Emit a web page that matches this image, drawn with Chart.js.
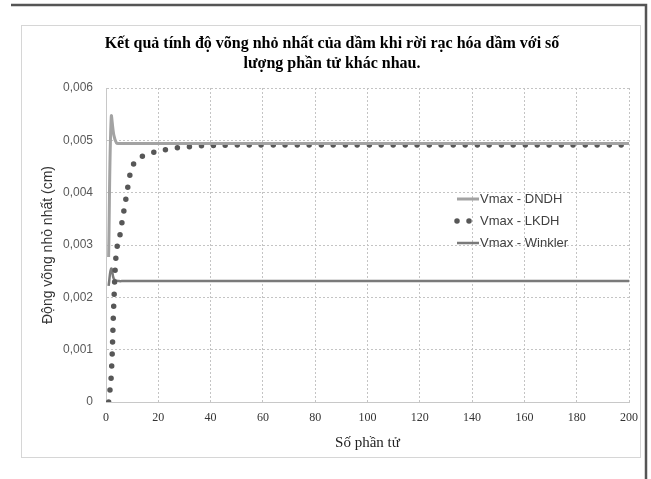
<!DOCTYPE html>
<html>
<head>
<meta charset="utf-8">
<script src="https://cdn.jsdelivr.net/npm/chart.js@4/dist/chart.umd.min.js"></script>
<style>
  body { margin: 0; background: #fff; }
  canvas { display: block; }
</style>
</head>
<body>
<canvas id="myChart" width="651" height="479"></canvas>
<script>
const chartTitle = ["Kết quả tính độ võng nhỏ nhất của dầm khi rời rạc hóa dầm với số", "lượng phần tử khác nhau."];
const xTitle = "Số phần tử";
const yTitle = "Động võng nhỏ nhất (cm)";

const seriesNames = ["Vmax - DNDH", "Vmax - LKDH", "Vmax - Winkler"];

const xTickLabels = ["0", "20", "40", "60", "80", "100", "120", "140", "160", "180", "200"];
const yTickLabels = ["0", "0,001", "0,002", "0,003", "0,004", "0,005", "0,006"];

// so phan tu
const elementCounts = [1, 2, 3, 4, 5, 6, 7, 8, 9, 10, 12, 14, 16, 18, 20, 25, 30, 35, 40,
  50, 60, 70, 80, 90, 100, 110, 120, 130, 140, 150, 160, 170, 180, 190, 200];

const dndhValues = [0.00277, 0.00545, 0.0051, 0.00495, 0.00494, 0.00494, 0.00494, 0.00494, 0.00494, 0.00494,
  0.00494, 0.00494, 0.00494, 0.00494, 0.00494, 0.00494, 0.00494, 0.00494, 0.00494,
  0.00494, 0.00494, 0.00494, 0.00494, 0.00494, 0.00494, 0.00494, 0.00494, 0.00494,
  0.00494, 0.00494, 0.00494, 0.00494, 0.00494, 0.00494, 0.00494];

const lkdhValues = [0, 0.0005, 0.0019, 0.0029, 0.0031, 0.0034, 0.0037, 0.004, 0.0043, 0.0045,
  0.00462, 0.0047, 0.00474, 0.00477, 0.00479, 0.00484, 0.00487, 0.00489, 0.0049,
  0.00491, 0.00491, 0.00491, 0.00491, 0.00491, 0.00491, 0.00491, 0.00491, 0.00491,
  0.00491, 0.00491, 0.00491, 0.00491, 0.00491, 0.00491, 0.00491];

const winklerValues = [0.00222, 0.00255, 0.00235, 0.00232, 0.00231, 0.00231, 0.00231, 0.00231, 0.00231, 0.00231,
  0.00231, 0.00231, 0.00231, 0.00231, 0.00231, 0.00231, 0.00231, 0.00231, 0.00231,
  0.00231, 0.00231, 0.00231, 0.00231, 0.00231, 0.00231, 0.00231, 0.00231, 0.00231,
  0.00231, 0.00231, 0.00231, 0.00231, 0.00231, 0.00231, 0.00231];

const toPoints = (values) => elementCounts.map((x, i) => ({ x: x, y: values[i] }));

// khung ngoai + chu giai tu ve
const framePlugin = {
  id: "frame",
  beforeDraw(chart) {
    const ctx = chart.ctx;
    ctx.save();
    ctx.fillStyle = "#fff";
    ctx.fillRect(0, 0, chart.width, chart.height);
    ctx.strokeStyle = "#d6d6d6";
    ctx.lineWidth = 1;
    ctx.strokeRect(21.5, 25.5, 619, 432);
    ctx.strokeStyle = "#555";
    ctx.lineWidth = 2.5;
    ctx.beginPath();
    ctx.moveTo(11, 5);
    ctx.lineTo(646, 5);
    ctx.lineTo(646, 479);
    ctx.stroke();
    ctx.restore();
  },
  afterDraw(chart) {
    const ctx = chart.ctx;
    const rows = [199, 221, 243];
    ctx.save();
    chart.data.datasets.forEach((ds, i) => {
      const y = rows[i];
      ctx.strokeStyle = ds.borderColor;
      ctx.lineWidth = ds.borderWidth;
      ctx.lineCap = ds.borderCapStyle || "butt";
      ctx.setLineDash(ds.borderDash || []);
      ctx.beginPath();
      if (ds.borderDash) {
        ctx.moveTo(457, y);
        ctx.lineTo(471, y);
      } else {
        ctx.moveTo(457, y);
        ctx.lineTo(479, y);
      }
      ctx.stroke();
      ctx.setLineDash([]);
      ctx.fillStyle = "#404040";
      ctx.font = "13px 'Liberation Sans', Arial, sans-serif";
      ctx.textBaseline = "middle";
      ctx.textAlign = "left";
      ctx.fillText(ds.label, 480, y);
    });
    ctx.restore();
  }
};

const ctx = document.getElementById("myChart").getContext("2d");
const myChart = new Chart(ctx, {
  type: "line",
  data: {
    datasets: [
      {
        label: seriesNames[0],
        data: toPoints(dndhValues),
        borderColor: "#a3a3a3",
        borderWidth: 3,
        pointRadius: 0,
        tension: 0.4
      },
      {
        label: seriesNames[1],
        data: toPoints(lkdhValues),
        borderColor: "#575757",
        borderWidth: 5.5,
        borderDash: [0, 12],
        borderCapStyle: "round",
        pointRadius: 0,
        tension: 0.4
      },
      {
        label: seriesNames[2],
        data: toPoints(winklerValues),
        borderColor: "#7a7a7a",
        borderWidth: 2.5,
        pointRadius: 0,
        tension: 0.4
      }
    ]
  },
  options: {
    responsive: false,
    animation: false,
    layout: { padding: { left: 35, right: 22, top: 0, bottom: 0 } },
    plugins: {
      legend: { display: false },
      tooltip: { enabled: false },
      title: {
        display: true,
        text: chartTitle,
        color: "#000",
        font: { family: "'Liberation Serif', 'Times New Roman', serif", size: 16, weight: "bold", lineHeight: 1.25 },
        padding: { top: 34, bottom: 14 }
      }
    },
    scales: {
      x: {
        type: "linear",
        min: 0,
        max: 200,
        afterFit: (scale) => { scale.height = 77; },
        ticks: {
          stepSize: 20,
          autoSkip: false,
          maxRotation: 0,
          padding: 9,
          color: "#333",
          font: { family: "'Liberation Serif', 'Times New Roman', serif", size: 12 },
          callback: (value, index) => xTickLabels[index]
        },
        grid: { color: "#c4c4c4", lineWidth: 1, drawTicks: false },
        border: { display: true, color: "#c8c8c8", width: 1, dash: [2, 2] },
        title: {
          display: true,
          text: xTitle,
          color: "#222",
          font: { family: "'Liberation Serif', 'Times New Roman', serif", size: 15 },
          padding: { bottom: 27 }
        }
      },
      y: {
        min: 0,
        max: 0.006,
        afterFit: (scale) => { scale.width = 71; },
        ticks: {
          stepSize: 0.001,
          padding: 13,
          color: "#595959",
          font: { family: "'Liberation Sans', Arial, sans-serif", size: 12 },
          callback: (value, index) => yTickLabels[index]
        },
        grid: { color: "#c4c4c4", lineWidth: 1, drawTicks: false },
        border: { display: true, color: "#c8c8c8", width: 1, dash: [2, 2] },
        title: {
          display: true,
          text: yTitle,
          color: "#333",
          font: { family: "'Liberation Sans', Arial, sans-serif", size: 14 },
          padding: { top: 5 }
        }
      }
    }
  },
  plugins: [framePlugin]
});
</script>
</body>
</html>
